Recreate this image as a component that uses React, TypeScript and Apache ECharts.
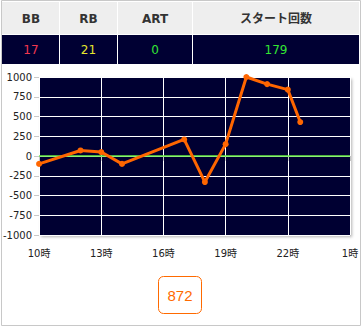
import React, { useEffect, useRef } from "react";
import * as echarts from "echarts";

const headers = ["BB", "RB", "ART", "スタート回数"];
const counts = ["17", "21", "0", "179"];
const countColors = ["#f2374f", "#e6e62e", "#33e633", "#33e633"];
const hours = [10, 12, 13, 14, 17, 18, 19, 20, 21, 22, 22.6];
const values = [-100, 70, 50, -100, 210, -330, 150, 1000, 910, 840, 430];
const xTickHours = [10, 13, 16, 19, 22, 25];
const total = "872";

const colEdges = [2, 59, 117, 192, 359];
const FONT = "'DejaVu Sans', 'Noto Sans CJK JP', sans-serif";

export default function App() {
  const ref = useRef<HTMLDivElement>(null);
  useEffect(() => {
    const chart = echarts.init(ref.current!, null, { renderer: "svg" });
    const base = xTickHours[0];
    const graphics: any[] = [];
    graphics.push({
      type: "rect",
      shape: { x: 1.5, y: 0.5, width: 359, height: 325 },
      style: { fill: "#fff", stroke: "#c8c8c8", lineWidth: 1 },
      z: -10,
    });
    for (let i = 0; i < headers.length; i++) {
      const x0 = colEdges[i] + (i === 0 ? 0 : 1);
      const x1 = colEdges[i + 1];
      graphics.push({
        type: "rect",
        shape: { x: x0, y: 2, width: x1 - x0, height: 32 },
        style: { fill: "#eeeeee" },
        z: -5,
      });
      graphics.push({
        type: "rect",
        shape: { x: x0, y: 35, width: x1 - x0, height: 29 },
        style: { fill: "#000033" },
        z: -5,
      });
      const cx = (colEdges[i] + colEdges[i + 1]) / 2 + 0.5;
      graphics.push({
        type: "text",
        x: cx,
        y: 18.5,
        style: {
          text: headers[i],
          fill: "#333",
          font: `bold 12px ${FONT}`,
          textAlign: "center",
          textVerticalAlign: "middle",
        },
      });
      graphics.push({
        type: "text",
        x: cx,
        y: 49.5,
        style: {
          text: counts[i],
          fill: countColors[i],
          font: `12px ${FONT}`,
          textAlign: "center",
          textVerticalAlign: "middle",
        },
      });
    }
    graphics.push({
      type: "rect",
      shape: { x: 158.5, y: 276.5, width: 43, height: 37, r: 5 },
      style: { fill: "#fff", stroke: "#ff6a00", lineWidth: 1 },
    });
    graphics.push({
      type: "text",
      x: 180,
      y: 295.5,
      style: {
        text: total,
        fill: "#ff6a00",
        font: "15px 'Liberation Sans', sans-serif",
        textAlign: "center",
        textVerticalAlign: "middle",
      },
    });

    chart.setOption({
      animation: false,
      graphic: graphics,
      grid: {
        left: 39,
        top: 77,
        right: 12,
        bottom: 93,
        show: true,
        backgroundColor: "#000033",
        borderWidth: 0,
        shadowColor: "rgba(0,0,0,0.3)",
        shadowBlur: 3,
        shadowOffsetX: 2,
        shadowOffsetY: 2,
      },
      xAxis: {
        type: "value",
        min: 0,
        max: xTickHours[xTickHours.length - 1] - base,
        interval: 3,
        axisLine: { show: false },
        axisTick: { show: true, length: 5, lineStyle: { color: "#c8c8c8" } },
        splitLine: { show: true, lineStyle: { color: "#ffffff", width: 1 } },
        axisLabel: {
          color: "#222",
          fontSize: 10,
          fontFamily: FONT,
          margin: 13,
          formatter: (v: number) => (((v + base - 1) % 24) + 1) + "時",
        },
      },
      yAxis: {
        type: "value",
        min: -1000,
        max: 1000,
        interval: 250,
        axisLine: { show: false },
        axisTick: { show: true, length: 5, lineStyle: { color: "#c8c8c8" } },
        splitLine: { show: true, lineStyle: { color: "#ffffff", width: 1 } },
        axisLabel: {
          color: "#222",
          fontSize: 10,
          fontFamily: FONT,
          margin: 7,
          formatter: (v: number) => String(v),
        },
      },
      series: [
        {
          type: "line",
          data: hours.map((h, i) => [h - base, values[i]]),
          symbol: "circle",
          symbolSize: 6,
          showSymbol: true,
          clip: true,
          lineStyle: { color: "#ff6600", width: 3 },
          itemStyle: { color: "#ff6600" },
          markLine: {
            silent: true,
            symbol: ["none", "none"],
            label: { show: false },
            lineStyle: { color: "#66ee44", width: 1.5, type: "solid" },
            data: [{ yAxis: 0 }],
            z: 1,
          },
          z: 3,
        },
      ],
    });
    return () => chart.dispose();
  }, []);
  return (
    <div
      ref={ref}
      style={{ position: "absolute", left: 0, top: 0, width: 362, height: 328 }}
    />
  );
}
